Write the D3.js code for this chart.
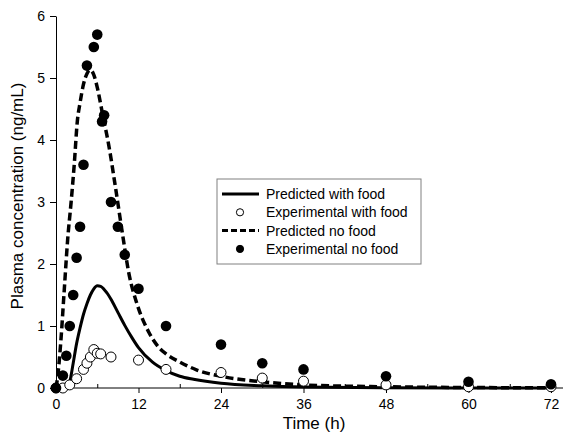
<!DOCTYPE html>
<html>
<head>
<meta charset="utf-8">
<script src="https://cdn.jsdelivr.net/npm/d3@7"></script>
<style>
    body { margin: 0; background: #fff; }
    svg { display: block; font-family: "Liberation Sans", Arial, sans-serif; }
</style>
</head>
<body>
<script>
// observed points (time h, conc ng/mL)
const expFoodTime = [0, 1, 2, 3, 4, 4.5, 5, 5.5, 6, 6.5, 8, 12, 16, 24, 30, 36, 48, 60, 72];
const expFoodConc = [0, 0, 0.05, 0.15, 0.3, 0.4, 0.5, 0.62, 0.56, 0.55, 0.5, 0.45, 0.3, 0.25, 0.16, 0.11, 0.05, 0.02, 0.02];

const expFastTime = [0, 1, 1.5, 2, 2.5, 3, 3.5, 4, 4.5, 5.5, 6, 6.7, 7, 8, 9, 10, 12, 16, 24, 30, 36, 48, 60, 72];
const expFastConc = [0, 0.2, 0.52, 1.0, 1.5, 2.1, 2.6, 3.6, 5.2, 5.5, 5.7, 4.3, 4.4, 3.0, 2.6, 2.15, 1.6, 1.0, 0.7, 0.4, 0.3, 0.19, 0.1, 0.06];

// model curves
const predFoodTime = [0, 1.5, 2, 2.5, 3, 3.5, 4, 4.5, 5, 5.5, 6, 6.5, 7, 7.5, 8, 9, 10, 11, 12, 14, 16, 18, 20, 24, 30, 36, 48, 60, 72];
const predFoodConc = [0, 0, 0.1, 0.4, 0.72, 0.97, 1.19, 1.36, 1.5, 1.6, 1.65, 1.64, 1.59, 1.52, 1.43, 1.22, 1.01, 0.82, 0.65, 0.42, 0.28, 0.19, 0.14, 0.075, 0.035, 0.015, 0.004, 0.001, 0];

const predFastTime = [0, 0.3, 0.7, 1.2, 1.7, 2.2, 2.65, 3.1, 3.5, 4, 4.5, 5, 5.5, 6, 6.75, 7.7, 8.7, 9.65, 10.6, 11.8, 13.5, 15, 16, 18, 20.5, 24, 30, 36, 48, 60, 72];
const predFastConc = [0, 0.24, 0.75, 1.58, 2.4, 3.0, 3.6, 4.3, 4.6, 4.9, 5.07, 5.13, 5.05, 4.85, 4.43, 3.9, 3.2, 2.5, 1.85, 1.35, 0.9, 0.65, 0.55, 0.42, 0.29, 0.19, 0.1, 0.05, 0.02, 0.008, 0.003];

const xMajor = [0, 12, 24, 36, 48, 60, 72];
const xMinor = [6, 18, 30, 42, 54, 66];
const yTicks = [0, 1, 2, 3, 4, 5, 6];

const legendItems = [
    { label: "Predicted with food", kind: "line", dash: null },
    { label: "Experimental with food", kind: "dot", fill: "#fff" },
    { label: "Predicted no food", kind: "line", dash: "6,3" },
    { label: "Experimental no food", kind: "dot", fill: "#000" }
];

const width = 565, height = 433;
const svg = d3.select(document.body).append("svg")
    .attr("width", width)
    .attr("height", height);

const x = d3.scaleLinear().domain([0, 72]).range([56, 551]);
const y = d3.scaleLinear().domain([0, 6]).range([388, 16]);

const zip = (ts, cs) => ts.map((t, i) => ({ t: t, c: cs[i] }));

// axes
const xAxis = svg.append("g")
    .attr("transform", `translate(0,${y(0)})`)
    .call(d3.axisBottom(x).tickValues(xMajor).tickSize(5).tickSizeOuter(0).tickPadding(6));
xAxis.select(".domain").remove();
xAxis.selectAll("text").attr("font-size", 14).attr("fill", "#000");

svg.append("g")
    .attr("transform", `translate(0,${y(0)})`)
    .call(d3.axisBottom(x).tickValues(xMinor).tickSize(-4).tickFormat(""))
    .select(".domain").remove();

svg.append("line")
    .attr("x1", x(0)).attr("x2", 563)
    .attr("y1", y(0)).attr("y2", y(0))
    .attr("stroke", "#000");

const yAxis = svg.append("g")
    .attr("transform", `translate(${x(0)},0)`)
    .call(d3.axisLeft(y).tickValues(yTicks).tickFormat(d3.format("d"))
        .tickSize(6).tickSizeOuter(0).tickPadding(5));
yAxis.selectAll("text").attr("font-size", 14).attr("fill", "#000");

// titles
svg.append("text")
    .attr("x", 314).attr("y", 429)
    .attr("text-anchor", "middle")
    .attr("font-size", 17)
    .text("Time (h)");

svg.append("text")
    .attr("transform", "translate(23,196) rotate(-90)")
    .attr("text-anchor", "middle")
    .attr("font-size", 17)
    .text("Plasma concentration (ng/mL)");

// curves
const line = d3.line()
    .x(d => x(d.t))
    .y(d => y(d.c))
    .curve(d3.curveMonotoneX);

svg.append("path")
    .datum(zip(predFoodTime, predFoodConc))
    .attr("d", line)
    .attr("fill", "none")
    .attr("stroke", "#000")
    .attr("stroke-width", 3);

svg.append("path")
    .datum(zip(predFastTime, predFastConc))
    .attr("d", line)
    .attr("fill", "none")
    .attr("stroke", "#000")
    .attr("stroke-width", 3.5)
    .attr("stroke-dasharray", "8,4");

// observed points
svg.append("g").selectAll("circle")
    .data(zip(expFoodTime, expFoodConc))
    .join("circle")
    .attr("cx", d => x(d.t))
    .attr("cy", d => y(d.c))
    .attr("r", 5)
    .attr("fill", "#fff")
    .attr("stroke", "#000");

svg.append("g").selectAll("circle")
    .data(zip(expFastTime, expFastConc))
    .join("circle")
    .attr("cx", d => x(d.t))
    .attr("cy", d => y(d.c))
    .attr("r", 5.3)
    .attr("fill", "#000");

// legend
const legend = svg.append("g").attr("transform", "translate(217,179)");
legend.append("rect")
    .attr("width", 204).attr("height", 85)
    .attr("fill", "#fff")
    .attr("stroke", "#808080");

const rows = legend.selectAll("g.row")
    .data(legendItems)
    .join("g")
    .attr("class", "row")
    .attr("transform", (d, i) => `translate(0,${15 + i * 18.3})`);

rows.filter(d => d.kind === "line").append("line")
    .attr("x1", 5).attr("x2", 42)
    .attr("stroke", "#000")
    .attr("stroke-width", 3)
    .attr("stroke-dasharray", d => d.dash);

rows.filter(d => d.kind === "dot").append("circle")
    .attr("cx", 23)
    .attr("r", 3.6)
    .attr("fill", d => d.fill)
    .attr("stroke", "#000");

rows.append("text")
    .attr("x", 49)
    .attr("dy", "0.35em")
    .attr("font-size", 14)
    .text(d => d.label);
</script>
</body>
</html>
